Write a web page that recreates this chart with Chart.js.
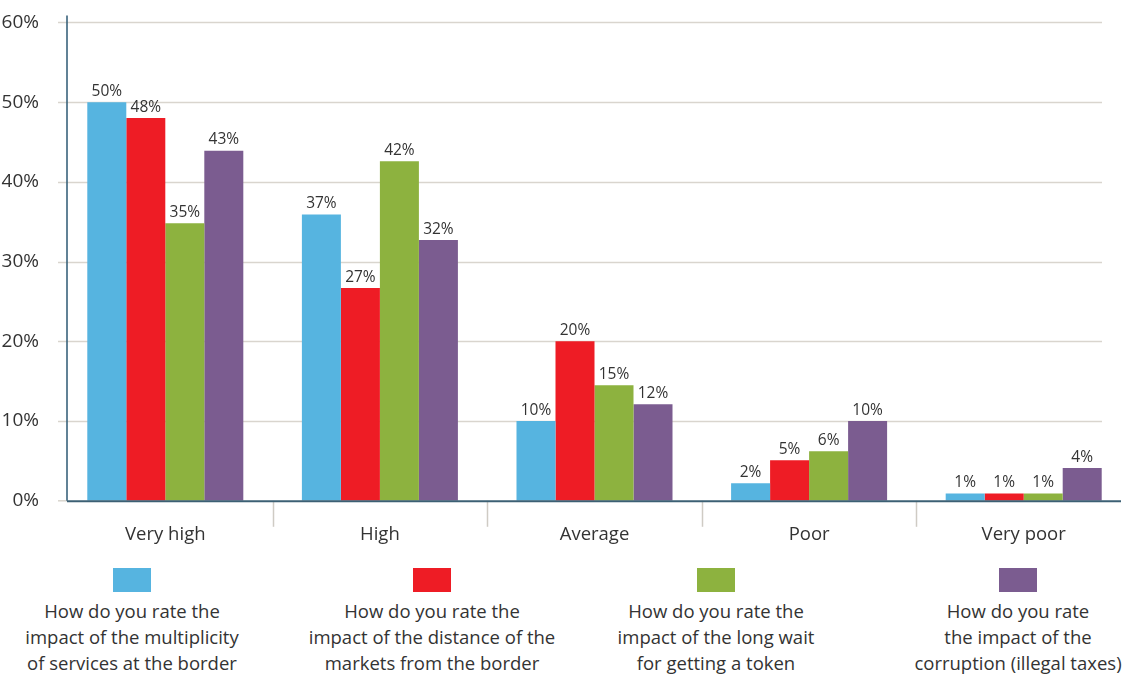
<!DOCTYPE html>
<html>
<head>
<meta charset="utf-8">
<script src="https://cdn.jsdelivr.net/npm/chart.js@4"></script>
<style>
    html, body { margin: 0; padding: 0; background: #fff; }
    #wrap { position: relative; width: 1131px; height: 677px; font-family: "Open Sans", sans-serif; color: #333; }
    #chart { position: absolute; left: 0; top: 0; }
    .leg { position: absolute; top: 568px; width: 280px; text-align: center; font-size: 18.5px; line-height: 26px; color: #333; }
    .leg .box { width: 38px; height: 24px; margin: 0 auto 6px auto; }
</style>
</head>
<body>
<div id="wrap">
    <canvas id="chart" width="1131" height="561"></canvas>
    <div id="legend"></div>
</div>
<script>
// categories
const categories = ["Very high", "High", "Average", "Poor", "Very poor"];

// bar heights (%)
const multiplicity = [50, 35.9, 10, 2.2, 0.9];
const distance = [48, 26.7, 20, 5.1, 0.9];
const longWait = [34.8, 42.6, 14.5, 6.2, 0.9];
const corruption = [43.9, 32.7, 12.1, 10, 4.1];

// printed value labels
const multiplicityLabels = ["50%", "37%", "10%", "2%", "1%"];
const distanceLabels = ["48%", "27%", "20%", "5%", "1%"];
const longWaitLabels = ["35%", "42%", "15%", "6%", "1%"];
const corruptionLabels = ["43%", "32%", "12%", "10%", "4%"];

// series names
const seriesNames = [
    ["How do you rate the", "impact of the multiplicity", "of services at the border"],
    ["How do you rate the", "impact of the distance of the", "markets from the border"],
    ["How do you rate the", "impact of the long wait", "for getting a token"],
    ["How do you rate", "the impact of the", "corruption (illegal taxes)"]
];

// y ticks
const yMax = 60;
const yStep = 10;

const colors = ["#56B4E0", "#EE1C25", "#8DB23F", "#7B5C90"];
const legendCenters = [132, 432, 716, 1018];

const GRID_LEFT = 58;
const AXIS_X = 67;
const GRID_RIGHT = 1102;

// gridlines, axis lines and category separators
const framePlugin = {
    id: "frame",
    beforeDatasetsDraw(chart) {
        const { ctx, scales: { x, y } } = chart;
        ctx.save();
        ctx.strokeStyle = "#d9d5ce";
        ctx.lineWidth = 1.5;
        for (let v = yStep; v <= yMax; v += yStep) {
            const py = Math.round(y.getPixelForValue(v)) + 0.5;
            ctx.beginPath();
            ctx.moveTo(GRID_LEFT, py);
            ctx.lineTo(GRID_RIGHT, py);
            ctx.stroke();
        }
        const y0 = y.getPixelForValue(0);
        ctx.beginPath();
        ctx.moveTo(GRID_LEFT, y0);
        ctx.lineTo(AXIS_X, y0);
        ctx.stroke();

        // category separators below the axis
        ctx.strokeStyle = "#cfcbc4";
        ctx.lineWidth = 1.5;
        for (let i = 1; i < categories.length; i++) {
            const px = Math.round((x.getPixelForTick(i - 1) + x.getPixelForTick(i)) / 2) + 0.5;
            ctx.beginPath();
            ctx.moveTo(px, y0);
            ctx.lineTo(px, y0 + 26);
            ctx.stroke();
        }

        // y axis
        ctx.strokeStyle = "#2d5873";
        ctx.lineWidth = 1.5;
        ctx.beginPath();
        ctx.moveTo(AXIS_X, y.getPixelForValue(yMax) - 7);
        ctx.lineTo(AXIS_X, y0);
        ctx.stroke();
        ctx.restore();
    },
    afterDatasetsDraw(chart) {
        const { ctx, scales: { y } } = chart;
        const y0 = y.getPixelForValue(0);
        ctx.save();
        ctx.strokeStyle = "#3c6074";
        ctx.lineWidth = 2;
        ctx.beginPath();
        ctx.moveTo(AXIS_X, y0 + 0.5);
        ctx.lineTo(1121, y0 + 0.5);
        ctx.stroke();
        ctx.restore();
    }
};

// value labels above bars
const valueLabelPlugin = {
    id: "valueLabels",
    afterDatasetsDraw(chart) {
        const { ctx } = chart;
        ctx.save();
        ctx.font = '15.5px "Open Sans", sans-serif';
        ctx.fillStyle = "#333";
        ctx.textAlign = "center";
        ctx.textBaseline = "bottom";
        chart.data.datasets.forEach((ds, di) => {
            chart.getDatasetMeta(di).data.forEach((bar, i) => {
                ctx.fillText(ds.valueLabels[i], bar.x, bar.y - 3);
            });
        });
        ctx.restore();
    }
};

const seriesValues = [multiplicity, distance, longWait, corruption];
const seriesLabels = [multiplicityLabels, distanceLabels, longWaitLabels, corruptionLabels];

new Chart(document.getElementById("chart"), {
    type: "bar",
    data: {
        labels: categories,
        datasets: seriesValues.map((data, i) => ({
            label: seriesNames[i].join(" "),
            data,
            valueLabels: seriesLabels[i],
            backgroundColor: colors[i],
            borderWidth: 0,
            categoryPercentage: 0.727,
            barPercentage: 1.0
        }))
    },
    options: {
        responsive: false,
        animation: false,
        layout: { padding: { top: 10, right: 0, left: 0, bottom: 0 } },
        plugins: {
            legend: { display: false },
            tooltip: { enabled: false }
        },
        scales: {
            x: {
                grid: { display: false },
                border: { display: false },
                ticks: {
                    color: "#333",
                    font: { family: "Open Sans", size: 18.5 },
                    padding: 15
                }
            },
            y: {
                min: 0,
                max: yMax,
                afterFit: s => { s.width = GRID_LEFT; },
                grid: { display: false },
                border: { display: false },
                ticks: {
                    stepSize: yStep,
                    color: "#333",
                    padding: 11,
                    font: { family: "Open Sans", size: 19 },
                    callback: v => v + "%"
                }
            }
        }
    },
    plugins: [framePlugin, valueLabelPlugin]
});

// legend below the chart
const legendEl = document.getElementById("legend");
seriesNames.forEach((lines, i) => {
    const div = document.createElement("div");
    div.className = "leg";
    div.style.left = (legendCenters[i] - 140) + "px";
    div.innerHTML = `<div class="box" style="background:${colors[i]}"></div>` + lines.join("<br>");
    legendEl.appendChild(div);
});
</script>
</body>
</html>
